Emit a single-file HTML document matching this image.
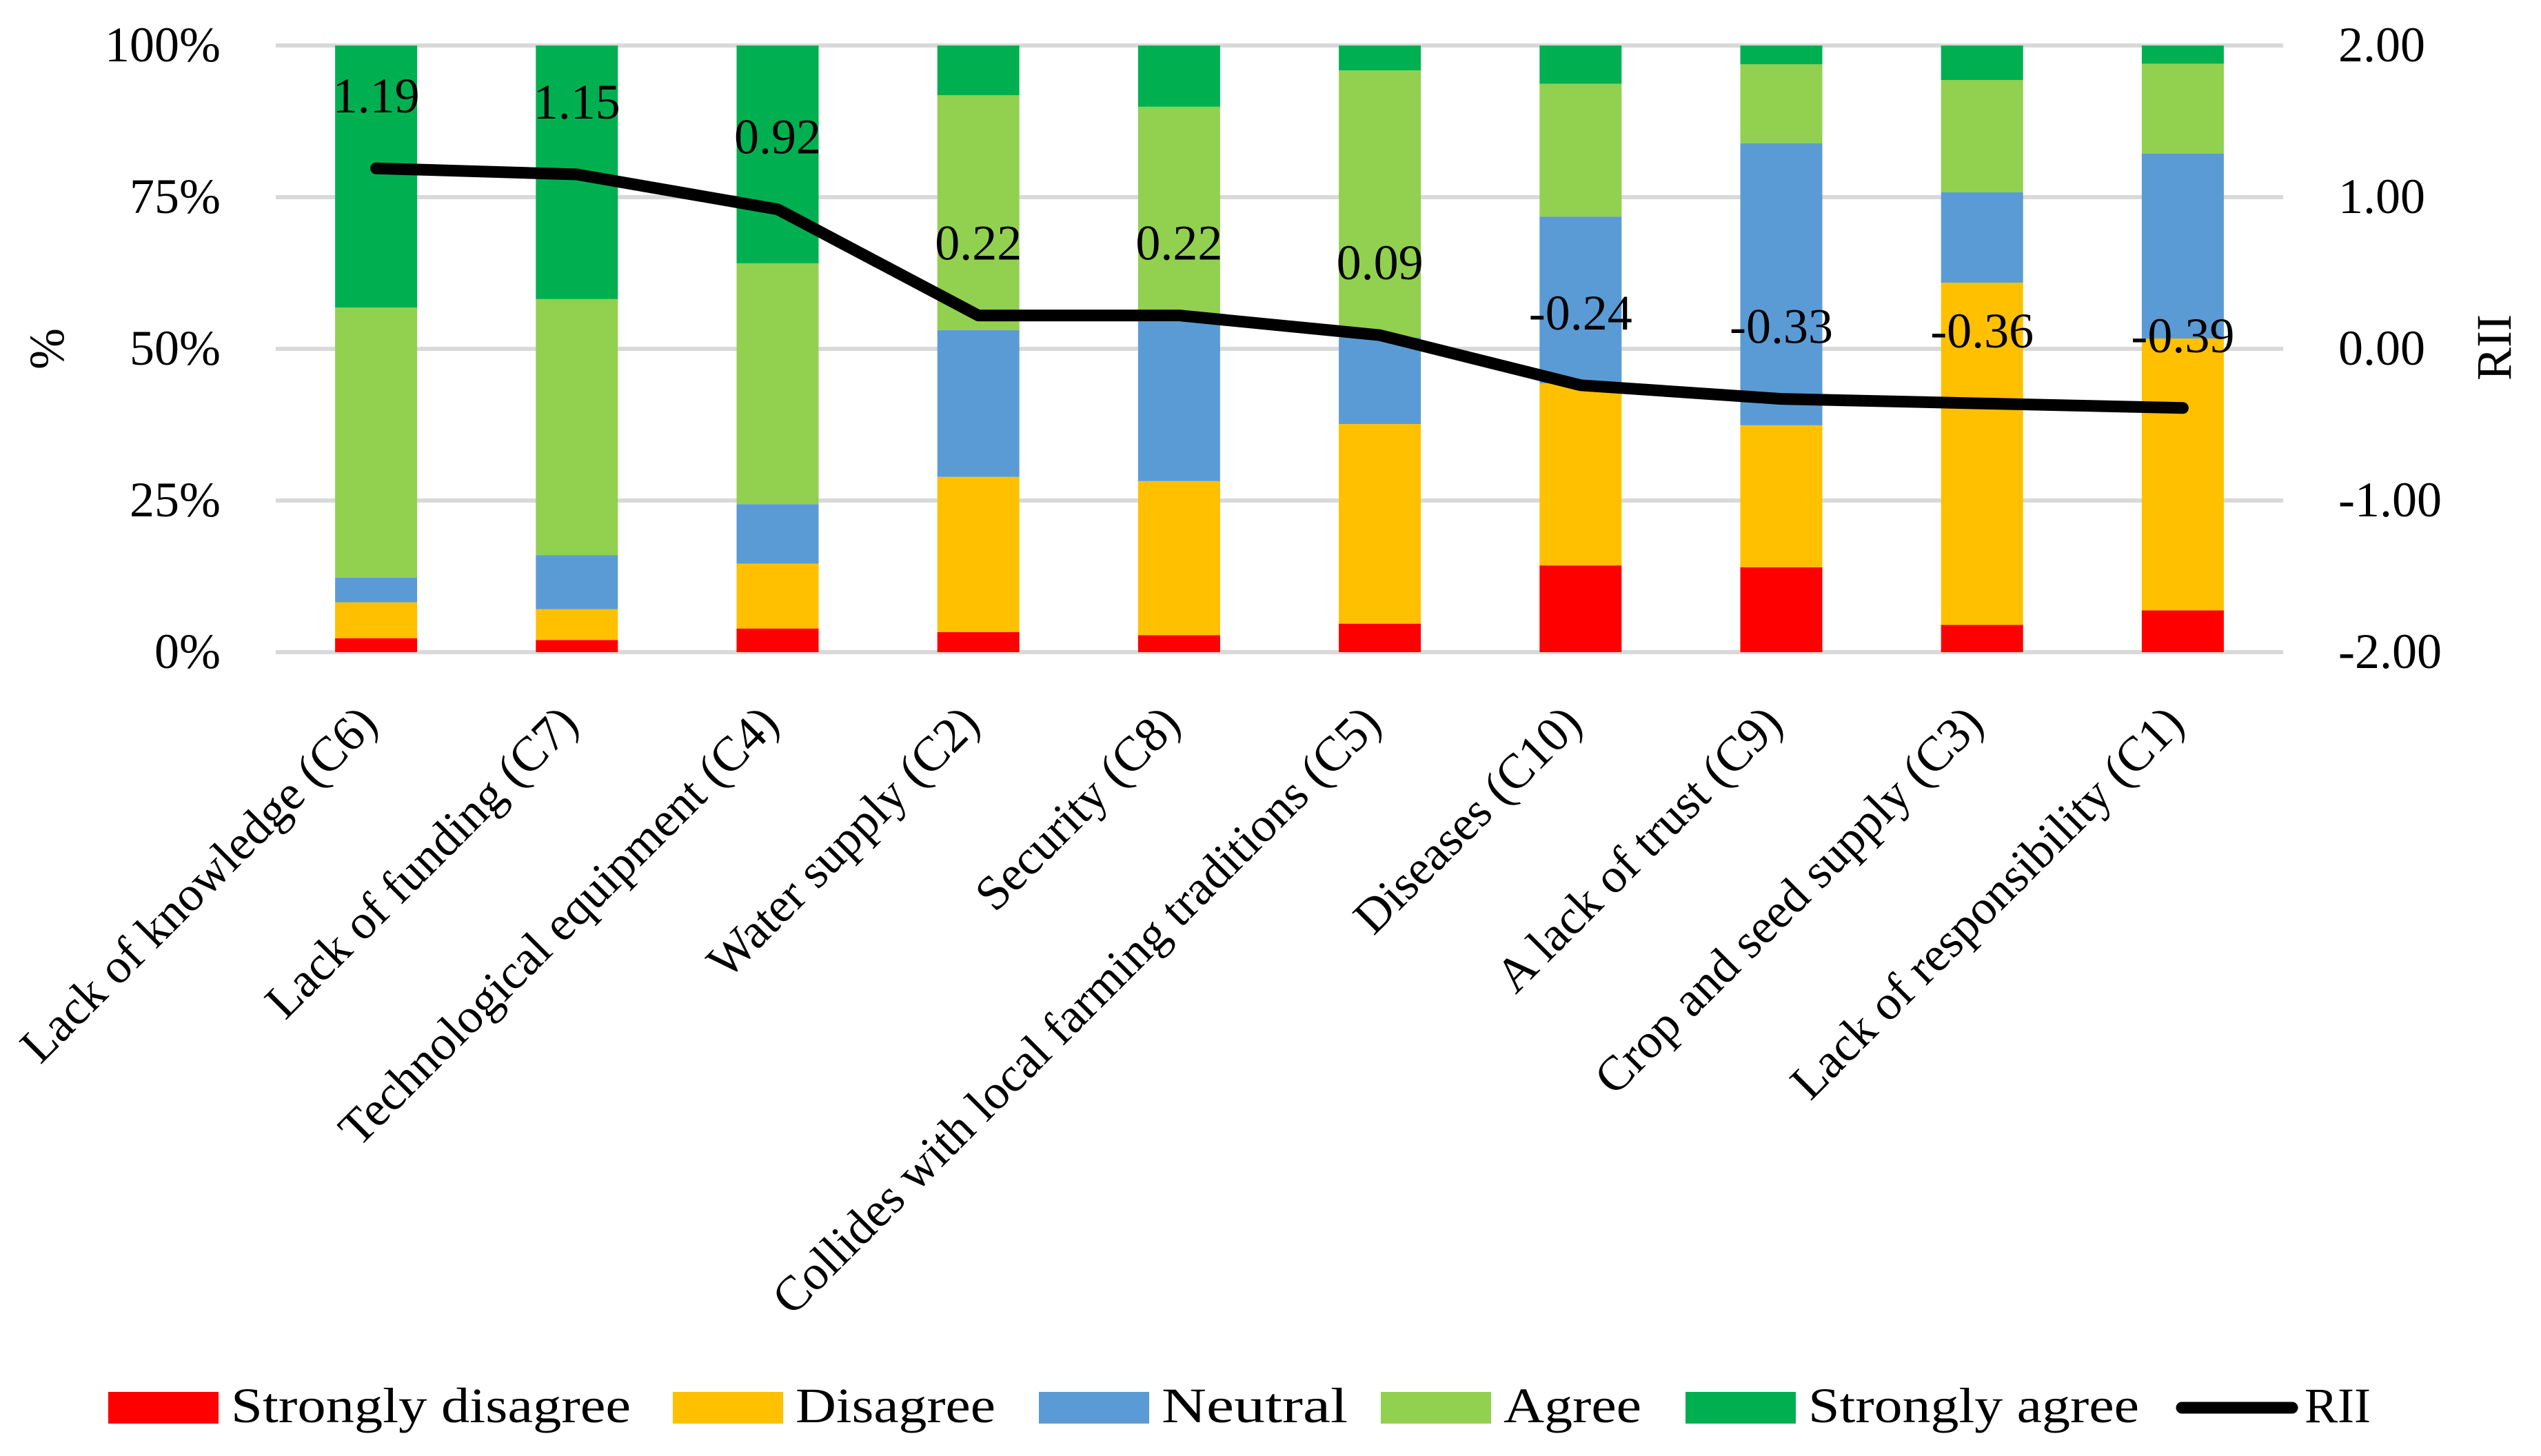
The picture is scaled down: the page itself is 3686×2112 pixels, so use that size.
<!DOCTYPE html>
<html><head><meta charset="utf-8">
<style>
html,body{margin:0;padding:0;background:#fff;}
svg{display:block;}
text{font-family:"Liberation Serif",serif;fill:#000;}
</style></head>
<body>
<svg id="chart" width="3686" height="2112" viewBox="0 0 3686 2112" xmlns="http://www.w3.org/2000/svg">
<g id="grid"></g>
<g id="bars"></g>
<g id="line"></g>
<g id="axes"></g>
<g id="legend"></g>
</svg>
<script>
const categories = ["Lack of knowledge (C6)","Lack of funding (C7)","Technological equipment (C4)","Water supply (C2)","Security (C8)","Collides with local farming traditions (C5)","Diseases (C10)","A lack of trust (C9)","Crop and seed supply (C3)","Lack of responsibility (C1)"];
const stronglyDisagree = [2.3, 2.0, 3.9, 3.3, 2.8, 4.7, 14.3, 14.0, 4.5, 6.9];
const disagree = [5.9, 5.1, 10.7, 25.6, 25.4, 32.9, 30.0, 23.4, 56.4, 44.8];
const neutral = [4.1, 8.9, 9.8, 24.2, 26.3, 14.3, 27.5, 46.5, 14.9, 30.5];
const agree = [44.5, 42.2, 39.7, 38.7, 35.4, 44.0, 21.9, 13.0, 18.5, 14.8];
const stronglyAgree = [43.2, 41.8, 35.9, 8.2, 10.1, 4.1, 6.3, 3.1, 5.7, 3.0];
const rii = [1.19, 1.15, 0.92, 0.22, 0.22, 0.09, -0.24, -0.33, -0.36, -0.39];
const leftTicks = ["0%","25%","50%","75%","100%"];
const leftTickValues = [0,25,50,75,100];
const rightTicks = ["-2.00","-1.00","0.00","1.00","2.00"];
const rightTickValues = [-2,-1,0,1,2];
const seriesNames = ["Strongly disagree","Disagree","Neutral","Agree","Strongly agree"];
const seriesColors = ["#FF0000","#FFC000","#5B9BD5","#92D050","#00B050"];

const NS = "http://www.w3.org/2000/svg";
const L = 400, R = 3312, T = 66, B = 946;
const band = (R - L) / categories.length;
const barW = 119;
function xC(i){ return L + band * (i + 0.5); }
function yPct(v){ return B - (v / 100) * (B - T); }
function yRii(v){ return B - ((v + 2) / 4) * (B - T); }
function mk(tag, attrs, parent){
  const e = document.createElementNS(NS, tag);
  for (const k in attrs) e.setAttribute(k, attrs[k]);
  parent.appendChild(e);
  return e;
}
const grid = document.getElementById('grid');
const bars = document.getElementById('bars');
const lineG = document.getElementById('line');
const axes = document.getElementById('axes');
const legend = document.getElementById('legend');

leftTickValues.forEach((v, i) => {
  const y = yPct(v);
  const gl = mk('line', {x1: L, x2: R, y1: y, y2: y, stroke: '#d9d9d9', 'stroke-width': 6}, grid);
  
  
  const t = mk('text', {x: 320, y: y + 23, 'text-anchor': 'end', 'font-size': 72}, axes);
  t.textContent = leftTicks[i];
  
  
});
rightTickValues.forEach((v, i) => {
  const y = yRii(v);
  const t = mk('text', {x: 3392, y: y + 23, 'text-anchor': 'start', 'font-size': 72}, axes);
  t.textContent = rightTicks[i];
  
  
});
const series = [stronglyDisagree, disagree, neutral, agree, stronglyAgree];
categories.forEach((c, i) => {
  let acc = 0;
  series.forEach((s, k) => {
    const y0 = yPct(acc), y1 = yPct(acc + s[i]);
    acc += s[i];
    const r = mk('rect', {x: xC(i) - barW/2, y: y1, width: barW, height: y0 - y1, fill: seriesColors[k]}, bars);
    
    
  });
  const lbl = mk('text', {x: 0, y: 0, 'text-anchor': 'end', 'font-size': 71, transform: 'translate(' + (xC(i) + 5) + ',1053) rotate(-45)'}, axes);
  lbl.textContent = c;
  
  
});
const pts = rii.map((v, i) => xC(i) + ',' + yRii(v)).join(' ');
const pl = mk('polyline', {points: pts, fill: 'none', stroke: '#000', 'stroke-width': 17, 'stroke-linecap': 'round', 'stroke-linejoin': 'round'}, lineG);


rii.forEach((v, i) => {
  const t = mk('text', {x: xC(i), y: yRii(v) - 81, 'text-anchor': 'middle', 'font-size': 72}, lineG);
  t.textContent = v.toFixed(2);
  
  
});
const yt = mk('text', {x: 0, y: 0, 'text-anchor': 'middle', 'font-size': 72, transform: 'translate(92,506) rotate(-90)'}, axes);
yt.textContent = '%';


const rt = mk('text', {x: 0, y: 0, 'text-anchor': 'middle', 'font-size': 72, transform: 'translate(3642,504) rotate(-90)'}, axes);
rt.textContent = 'RII';



const legSwX = [157, 976, 1507, 2003, 2445];
const legTextW = [580, 290, 270, 200, 480];
seriesNames.forEach((n, k) => {
  const r = mk('rect', {x: legSwX[k], y: 2019, width: 160, height: 46, fill: seriesColors[k]}, legend);
  
  
  const t = mk('text', {x: legSwX[k] + 178, y: 2063, 'font-size': 72, textLength: legTextW[k], lengthAdjust: 'spacingAndGlyphs'}, legend);
  t.textContent = n;
  
  
});
const ll = mk('line', {x1: 3165, x2: 3325, y1: 2042, y2: 2042, stroke: '#000', 'stroke-width': 17, 'stroke-linecap': 'round'}, legend);


const lt = mk('text', {x: 3343, y: 2063, 'font-size': 72}, legend);
lt.textContent = 'RII';


</script>
</body></html>
